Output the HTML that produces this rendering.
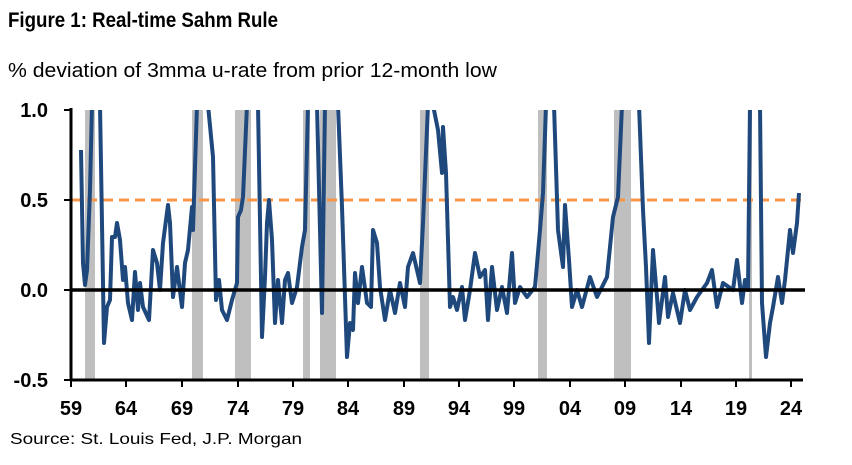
<!DOCTYPE html>
<html><head><meta charset="utf-8"><style>
body{margin:0;background:#fff;width:852px;height:460px;overflow:hidden;font-family:"Liberation Sans",Arial,sans-serif}
</style></head><body>
<svg width="852" height="460" xmlns="http://www.w3.org/2000/svg" font-family="Liberation Sans, Arial, sans-serif">
<text x="8" y="27" font-size="21" font-weight="bold" fill="#000" textLength="270" lengthAdjust="spacingAndGlyphs">Figure 1: Real-time Sahm Rule</text>
<text x="8" y="77" font-size="20" fill="#000" textLength="489" lengthAdjust="spacingAndGlyphs">% deviation of 3mma u-rate from prior 12-month low</text>
<g fill="#bfbfbf">
<rect x="85" y="110" width="10" height="270"/>
<rect x="192" y="110" width="11" height="270"/>
<rect x="235" y="110" width="16" height="270"/>
<rect x="303" y="110" width="7" height="270"/>
<rect x="320" y="110" width="16" height="270"/>
<rect x="420" y="110" width="9" height="270"/>
<rect x="538" y="110" width="9" height="270"/>
<rect x="614" y="110" width="17" height="270"/>
<rect x="749" y="110" width="3" height="270"/>
</g>
<line x1="71" y1="200" x2="803" y2="200" stroke="#f79646" stroke-width="3" stroke-dasharray="10,6"/>
<defs><clipPath id="c"><rect x="71" y="110" width="740" height="280"/></clipPath></defs>
<polyline clip-path="url(#c)" fill="none" stroke="#1f497d" stroke-width="4" stroke-linejoin="round" points="81,150 83,263 85,285 87,270 90,190 92,105 100,105 104,343 107,307 110,300 112,237 115,237 117,223 120,240 123,280 125,267 128,303 132,320 135,272 138,310 140,283 143,307 149,320 153,250 157,263 160,290 163,243 168,205 170,223 173,297 177,267 182,307 185,263 188,250 192,207 193,230 197,105 208,105 213,157 216,300 219,280 222,310 227,320 232,300 237,283 238,217 241,210 243,197 247,105 258,105 262,337 265,277 267,223 269,200 272,240 275,323 278,280 282,323 285,280 288,273 292,303 297,287 302,247 305,230 308,105 317,105 322,313 325,105 338,105 342,207 347,357 350,323 353,330 355,273 358,303 362,267 367,303 371,307 373,230 377,243 380,287 385,320 390,290 395,313 400,283 405,307 408,267 413,253 420,283 423,223 428,105 433,105 438,130 442,173 443,127 446,173 450,307 453,297 457,310 462,287 465,320 470,290 475,253 480,277 485,270 488,320 492,267 497,310 502,287 507,313 512,253 515,303 520,287 527,297 535,287 540,230 543,193 546,105 554,105 558,230 563,267 565,205 569,260 572,307 577,290 582,307 590,277 597,297 607,277 613,217 618,197 622,105 639,105 643,210 646,267 649,343 653,250 657,297 659,323 665,277 668,317 673,293 680,323 685,290 690,310 697,297 707,283 712,270 717,307 723,283 733,290 737,260 742,303 745,280 748,290 750,105 760,105 762,303 766,357 770,323 773,307 778,277 782,303 785,280 790,230 793,253 797,223 799,193"/>
<line x1="71" y1="290" x2="805" y2="290" stroke="#000" stroke-width="3.5"/>
<line x1="71" y1="108" x2="71" y2="381" stroke="#000" stroke-width="3"/>
<line x1="70" y1="380" x2="803" y2="380" stroke="#000" stroke-width="3"/>
<g stroke="#000" stroke-width="2">
<line x1="64" y1="110" x2="71" y2="110"/><line x1="64" y1="200" x2="71" y2="200"/><line x1="64" y1="290" x2="71" y2="290"/><line x1="64" y1="380" x2="71" y2="380"/>
<line x1="71" y1="380" x2="71" y2="387"/><line x1="126" y1="380" x2="126" y2="387"/><line x1="182" y1="380" x2="182" y2="387"/><line x1="238" y1="380" x2="238" y2="387"/><line x1="293" y1="380" x2="293" y2="387"/><line x1="348" y1="380" x2="348" y2="387"/><line x1="404" y1="380" x2="404" y2="387"/><line x1="459" y1="380" x2="459" y2="387"/><line x1="514" y1="380" x2="514" y2="387"/><line x1="570" y1="380" x2="570" y2="387"/><line x1="625" y1="380" x2="625" y2="387"/><line x1="681" y1="380" x2="681" y2="387"/><line x1="736" y1="380" x2="736" y2="387"/><line x1="791" y1="380" x2="791" y2="387"/>
</g>
<g font-size="20" font-weight="bold" fill="#000" text-anchor="end">
<text x="48" y="117">1.0</text><text x="48" y="207">0.5</text><text x="48" y="297">0.0</text><text x="48" y="387">-0.5</text>
</g>
<g font-size="20" font-weight="bold" fill="#000" text-anchor="middle">
<text x="71" y="415">59</text><text x="126" y="415">64</text><text x="182" y="415">69</text><text x="238" y="415">74</text><text x="293" y="415">79</text><text x="348" y="415">84</text><text x="404" y="415">89</text><text x="459" y="415">94</text><text x="514" y="415">99</text><text x="570" y="415">04</text><text x="625" y="415">09</text><text x="681" y="415">14</text><text x="736" y="415">19</text><text x="791" y="415">24</text>
</g>
<text x="10" y="444" font-size="16" fill="#000" textLength="292" lengthAdjust="spacingAndGlyphs">Source: St. Louis Fed, J.P. Morgan</text>
</svg>
</body></html>
